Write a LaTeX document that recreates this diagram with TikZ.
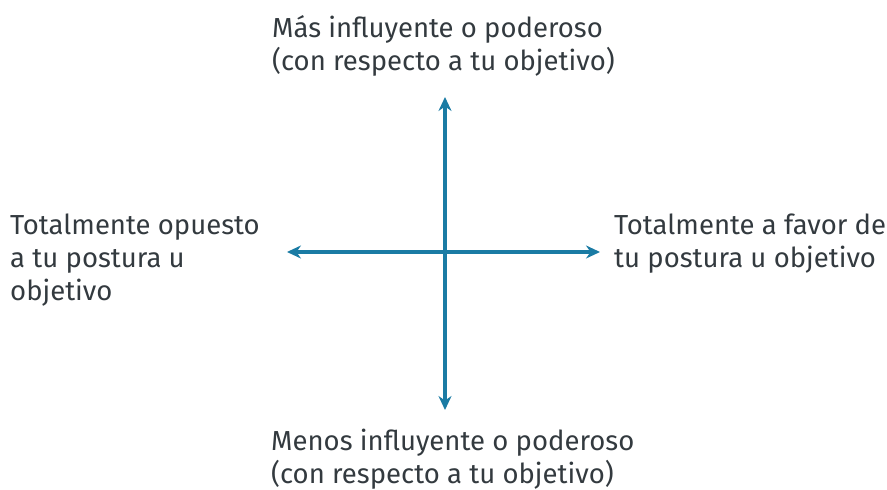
\documentclass[tikz,border=0pt]{standalone}
\usepackage{fontspec}
\setmainfont{Fira Sans}
\usetikzlibrary{arrows.meta}
\definecolor{axisblue}{HTML}{1A7BA4}
\definecolor{labelgray}{HTML}{333A3F}
\tikzset{
  axis/.style={line width=3.6pt, draw=axisblue, {Stealth[length=14pt,width=13pt]}-{Stealth[length=14pt,width=13pt]}},
  label/.style={inner sep=0pt, align=left, text=labelgray, font=\fontsize{27.5}{33}\selectfont}
}
\begin{document}
\begin{tikzpicture}[x=1pt, y=1pt]
        \useasboundingbox (0, 0) rectangle (887, 490);
        % axis end points
        \coordinate (top) at (445, 393);
        \coordinate (bottom) at (445, 80);
        \coordinate (left) at (287, 238);
        \coordinate (right) at (600, 238);
        \draw[axis] (bottom) -- (top);
        \draw[axis] (left) -- (right);
        % labels (base = last line)
        \node[label, anchor=base west] (more) at (272, 419) {Más influyente o poderoso\\(con respecto a tu objetivo)};
        \node[label, anchor=base west] (less) at (271, 6) {Menos influyente o poderoso\\(con respecto a tu objetivo)};
        \node[label, anchor=base west] (against) at (10, 189) {Totalmente opuesto\\a tu postura u\\objetivo};
        \node[label, anchor=base west] (favour) at (614, 222) {Totalmente a favor de\\tu postura u objetivo};
\end{tikzpicture}
\end{document}
